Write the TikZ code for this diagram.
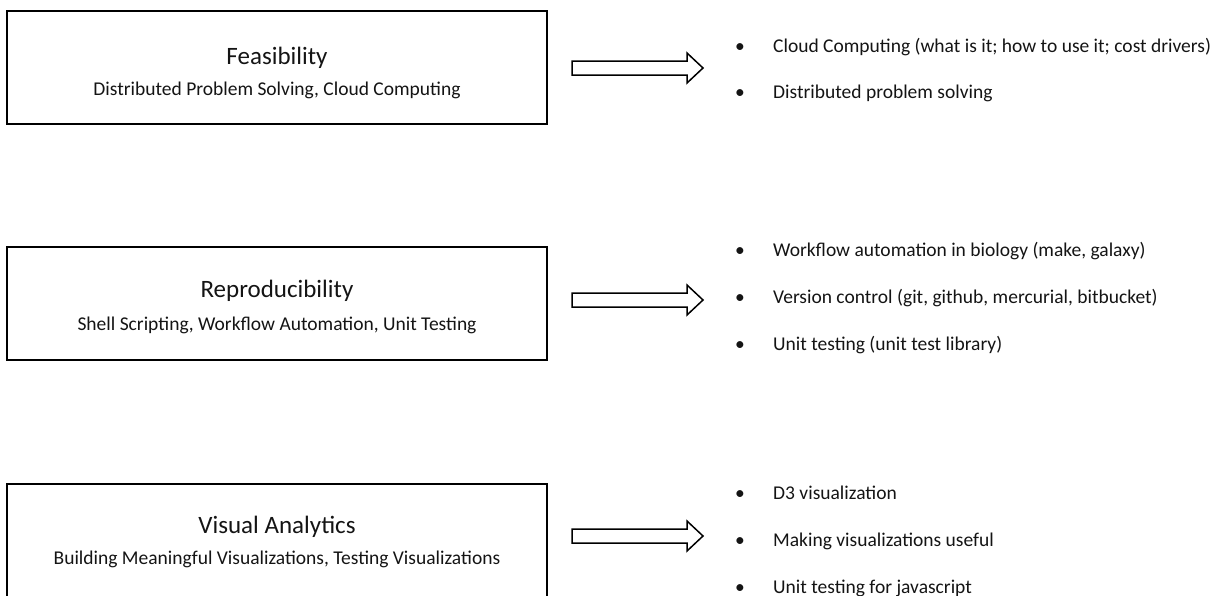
\documentclass[tikz,border=0pt]{standalone}
\usepackage{fontspec}
\setmainfont{Carlito}
\begin{document}
\begin{tikzpicture}[x=1pt,y=-1pt,
  topicbox/.style={draw=black, line width=1.6pt, minimum width=540pt, minimum height=113pt, inner sep=0pt},
  topictitle/.style={font=\fontsize{25}{30}\selectfont, anchor=base, text=black!92, inner sep=0pt},
  topicsub/.style={font=\fontsize{19.5}{23}\selectfont, anchor=base, text=black!92, inner sep=0pt},
  itemtext/.style={font=\fontsize{19.5}{23}\selectfont, anchor=mid west, text=black!92, inner sep=0pt},
  itemdot/.style={font=\fontsize{19.5}{23}\selectfont, anchor=mid, text=black!92, inner sep=0pt},
  pics/blockarrow/.style={code={
    \draw[line width=1.5pt, line join=miter, fill=white]
      (0,-7) -- (115,-7) -- (115,-15) -- (131,0) -- (115,15) -- (115,7) -- (0,7) -- cycle;}}
]
\useasboundingbox (0,0) rectangle (1221,595);
\clip (0,0) rectangle (1221,595);

% topic boxes
\node[topicbox] (feas)   at (277,67.5)  {};
\node[topicbox] (repro)  at (277,303.5) {};
\node[topicbox] (visual) at (277,540.5) {};

\node[topictitle] (feasT)   at (277,64)  {Feasibility};
\node[topicsub]   (feasS)   at (277,95)  {Distributed Problem Solving, Cloud Computing};
\node[topictitle] (reproT)  at (277,297) {Reproducibility};
\node[topicsub]   (reproS)  at (277,330) {Shell Scripting, Workflow Automation, Unit Testing};
\node[topictitle] (visualT) at (277,533) {Visual Analytics};
\node[topicsub]   (visualS) at (277,564) {Building Meaningful Visualizations, Testing Visualizations};

% block arrows
\pic at (572,68)  {blockarrow};
\pic at (572,300) {blockarrow};
\pic at (572,536) {blockarrow};

% bullet lists
\node[itemdot] (fd1) at (740,50) {•};
\node[itemtext] (f1) at (773,50) {Cloud Computing (what is it; how to use it; cost drivers)};
\node[itemdot] (fd2) at (740,96) {•};
\node[itemtext] (f2) at (773,96) {Distributed problem solving};

\node[itemdot] (rd1) at (740,254) {•};
\node[itemtext] (r1) at (773,254) {Workflow automation in biology (make, galaxy)};
\node[itemdot] (rd2) at (740,301) {•};
\node[itemtext] (r2) at (773,301) {Version control (git, github, mercurial, bitbucket)};
\node[itemdot] (rd3) at (740,348) {•};
\node[itemtext] (r3) at (773,348) {Unit testing (unit test library)};

\node[itemdot] (vd1) at (740,497) {•};
\node[itemtext] (v1) at (773,497) {D3 visualization};
\node[itemdot] (vd2) at (740,544) {•};
\node[itemtext] (v2) at (773,544) {Making visualizations useful};
\node[itemdot] (vd3) at (740,591) {•};
\node[itemtext] (v3) at (773,591) {Unit testing for javascript};
\end{tikzpicture}
\end{document}
